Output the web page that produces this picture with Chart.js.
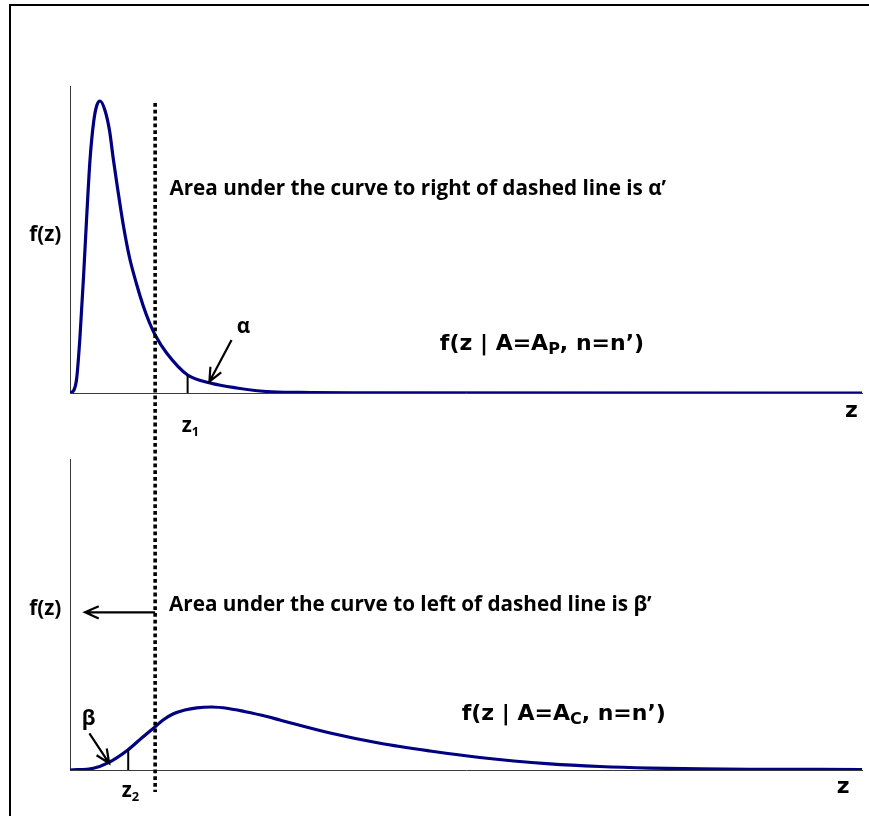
<!DOCTYPE html>
<html>
<head>
<meta charset="utf-8">
<script src="https://cdn.jsdelivr.net/npm/chart.js@4.4.1/dist/chart.umd.min.js"></script>
<style>
    html, body { margin: 0; padding: 0; background: #fff; overflow: hidden; }
    #wrap { position: relative; width: 869px; height: 816px; overflow: hidden; }
    .rule { position: absolute; background: #000; }
    #ruleTop { left: 9px; top: 4px; width: 860px; height: 2px; }
    #ruleLeft { left: 9px; top: 4px; width: 2px; height: 812px; }
    canvas { position: absolute; left: 0; }
    #topChart { top: 0; }
    #bottomChart { top: 440px; }
</style>
</head>
<body>
<div id="wrap">
    <div class="rule" id="ruleTop"></div>
    <div class="rule" id="ruleLeft"></div>
    <canvas id="topChart" width="869" height="440"></canvas>
    <canvas id="bottomChart" width="869" height="376"></canvas>
</div>
<script>
// Curve: f(z | A=A_P, n=n')
const zTop = [0, 0.10, 0.17, 0.25, 0.34, 0.42, 0.505, 0.60, 0.68, 0.76, 0.88, 1.00, 1.09, 1.20, 1.35, 1.50, 1.68, 1.85, 2.00, 2.15, 2.44, 2.97, 3.54, 4.21, 4.97, 5.81, 7.5, 20];
const fTop = [0, 0.03, 0.15, 0.55, 1.15, 1.75, 2.33, 2.72, 2.88, 2.92, 2.83, 2.62, 2.35, 2.05, 1.67, 1.36, 1.09, 0.87, 0.71, 0.58, 0.40, 0.18, 0.10, 0.05, 0.015, 0.006, 0.002, 0];

// Curve: f(z | A=A_C, n=n')
const zBottom = [0, 0.59, 0.97, 1.46, 1.81, 2.15, 2.35, 2.60, 2.90, 3.20, 3.58, 4.00, 4.40, 4.97, 5.30, 6.57, 7.83, 9.09, 10.35, 12.12, 13.38, 14.65, 15.91, 17.17, 20];
const fBottom = [0, 0.017, 0.073, 0.20, 0.32, 0.433, 0.50, 0.56, 0.60, 0.622, 0.63, 0.615, 0.585, 0.535, 0.50, 0.37, 0.267, 0.19, 0.125, 0.062, 0.035, 0.019, 0.011, 0.007, 0.005];

// Marked z values
const zDashed = 2.15;
const z1 = 2.97;
const z2 = 1.47;

// Axis ranges
const zMax = 20;
const fMaxTop = 3.07;
const fMaxBottom = 3.11;

// Texts
const topNote = 'Area under the curve to right of dashed line is α’';
const bottomNote = 'Area under the curve to left of dashed line is β’';

const CURVE = '#000080';
const AXIS = '#3a3a3a';
const CAL = '"Open Sans", Lato, sans-serif';
const WIDE = '"DejaVu Sans", Verdana, sans-serif';

// size the Calibri-like text so the top note spans what it does in the picture
function fitSize(text, family, width) {
    const c = document.createElement('canvas').getContext('2d');
    c.font = 'bold 20px ' + family;
    return 20 * width / c.measureText(text).width;
}
const calSize = fitSize(topNote, CAL, 498);
const calFont = 'bold ' + calSize.toFixed(1) + 'px ' + CAL;
const calSub = 'bold ' + (calSize * 0.62).toFixed(1) + 'px ' + CAL;

// page y where the dotted line starts, so the lower panel keeps the same dot rhythm
let dottedStartPage = 0;

// linear lookup in a curve, used to stand the z ticks on the curve
function curveAt(zs, fs, z) {
    for (let i = 1; i < zs.length; i++) {
        if (z <= zs[i]) {
            const t = (z - zs[i - 1]) / (zs[i] - zs[i - 1]);
            return fs[i - 1] + t * (fs[i] - fs[i - 1]);
        }
    }
    return fs[fs.length - 1];
}

function drawArrow(ctx, x1, y1, x2, y2) {
    const ang = Math.atan2(y2 - y1, x2 - x1);
    const len = 15, spread = 0.42;
    ctx.beginPath();
    ctx.moveTo(x1, y1);
    ctx.lineTo(x2, y2);
    ctx.moveTo(x2 - len * Math.cos(ang - spread), y2 - len * Math.sin(ang - spread));
    ctx.lineTo(x2, y2);
    ctx.lineTo(x2 - len * Math.cos(ang + spread), y2 - len * Math.sin(ang + spread));
    ctx.stroke();
}

// draw a run of text pieces: [text, font, baseline shift]
function drawRun(ctx, pieces, x, y) {
    pieces.forEach(([text, font, dy]) => {
        ctx.font = font;
        ctx.fillText(text, x, y + dy);
        x += ctx.measureText(text).width;
    });
}

function drawDotted(ctx, x, yFrom, yTo) {
    ctx.save();
    ctx.strokeStyle = '#000';
    ctx.lineWidth = 3.6;
    ctx.setLineDash([3.8, 3.0]);
    ctx.beginPath();
    ctx.moveTo(x, yFrom);
    ctx.lineTo(x, yTo);
    ctx.stroke();
    ctx.restore();
}

function drawTick(ctx, xs, ys, z, fz) {
    ctx.save();
    ctx.strokeStyle = '#000';
    ctx.lineWidth = 2;
    ctx.beginPath();
    ctx.moveTo(xs.getPixelForValue(z), ys.getPixelForValue(0));
    ctx.lineTo(xs.getPixelForValue(z), ys.getPixelForValue(fz));
    ctx.stroke();
    ctx.restore();
}

// Top panel annotations
const topExtras = {
    id: 'topExtras',
    afterDatasetsDraw(chart) {
        const { ctx, scales: { x, y } } = chart;
        const X = v => x.getPixelForValue(v);
        const Y = v => y.getPixelForValue(v);

        dottedStartPage = Y(2.90) + chart.canvas.offsetTop;
        drawDotted(ctx, X(zDashed), Y(2.90), chart.height);
        drawTick(ctx, x, y, z1, curveAt(zTop, fTop, z1));

        ctx.save();
        ctx.fillStyle = '#000';
        ctx.strokeStyle = '#000';
        ctx.lineWidth = 2.2;
        ctx.textBaseline = 'alphabetic';

        ctx.font = calFont;
        ctx.fillText('f(z)', X(-1.03), Y(1.52));
        ctx.fillText(topNote, X(2.51), Y(1.98));
        ctx.fillText('α', X(4.21), Y(0.60));
        drawRun(ctx, [['z', calFont, 0], ['1', calSub, 4]], X(2.82), Y(-0.387));

        drawArrow(ctx, X(4.08), Y(0.53), X(3.52), Y(0.113));

        drawRun(ctx, [
            ['f(z | A=A', 'bold 22px ' + WIDE, 0],
            ['P', 'bold 16px ' + WIDE, 4],
            [', n=n’)', 'bold 22px ' + WIDE, 0]
        ], X(9.34), Y(0.43));

        ctx.font = 'bold 22px ' + WIDE;
        ctx.fillText('z', X(19.57), Y(-0.24));
        ctx.restore();
    }
};

// Bottom panel annotations
const bottomExtras = {
    id: 'bottomExtras',
    afterDatasetsDraw(chart) {
        const { ctx, scales: { x, y } } = chart;
        const X = v => x.getPixelForValue(v);
        const Y = v => y.getPixelForValue(v);

        // start where the top panel's line started (off-canvas) to keep the dots in step
        drawDotted(ctx, X(zDashed), dottedStartPage - chart.canvas.offsetTop, Y(-0.22));
        drawTick(ctx, x, y, z2, curveAt(zBottom, fBottom, z2));

        ctx.save();
        ctx.fillStyle = '#000';
        ctx.strokeStyle = '#000';
        ctx.lineWidth = 2.2;
        ctx.textBaseline = 'alphabetic';

        ctx.font = calFont;
        ctx.fillText('f(z)', X(-1.03), Y(1.555));
        ctx.fillText(bottomNote, X(2.50), Y(1.593));
        ctx.fillText('β', X(0.295), Y(0.446));
        drawRun(ctx, [['z', calFont, 0], ['2', calSub, 4]], X(1.305), Y(-0.267));

        drawArrow(ctx, X(zDashed), Y(1.577), X(0.38), Y(1.577));
        drawArrow(ctx, X(0.49), Y(0.367), X(0.99), Y(0.067));

        drawRun(ctx, [
            ['f(z | A=A', 'bold 22px ' + WIDE, 0],
            ['C', 'bold 16px ' + WIDE, 4],
            [', n=n’)', 'bold 22px ' + WIDE, 0]
        ], X(9.89), Y(0.50));

        ctx.font = 'bold 22px ' + WIDE;
        ctx.fillText('z', X(19.36), Y(-0.233));
        ctx.restore();
    }
};

function makeChart(id, zs, fs, fMax, padding, extras) {
    return new Chart(document.getElementById(id), {
        type: 'line',
        data: {
            datasets: [{
                data: zs.map((z, i) => ({ x: z, y: fs[i] })),
                borderColor: CURVE,
                borderWidth: 3.2,
                pointRadius: 0,
                cubicInterpolationMode: 'monotone',
                fill: false
            }]
        },
        options: {
            responsive: false,
            animation: false,
            events: [],
            layout: { padding: padding },
            plugins: {
                legend: { display: false },
                tooltip: { enabled: false }
            },
            scales: {
                x: {
                    type: 'linear',
                    min: 0,
                    max: zMax,
                    ticks: { display: false },
                    grid: { display: false, drawTicks: false },
                    border: { display: true, color: AXIS, width: 1 }
                },
                y: {
                    min: 0,
                    max: fMax,
                    ticks: { display: false },
                    grid: { display: false, drawTicks: false },
                    border: { display: true, color: AXIS, width: 1 }
                }
            }
        },
        plugins: [extras]
    });
}

makeChart('topChart', zTop, fTop, fMaxTop, { left: 70, right: 7, top: 86, bottom: 47 }, topExtras);
makeChart('bottomChart', zBottom, fBottom, fMaxBottom, { left: 70, right: 7, top: 19, bottom: 46 }, bottomExtras);
</script>
</body>
</html>
